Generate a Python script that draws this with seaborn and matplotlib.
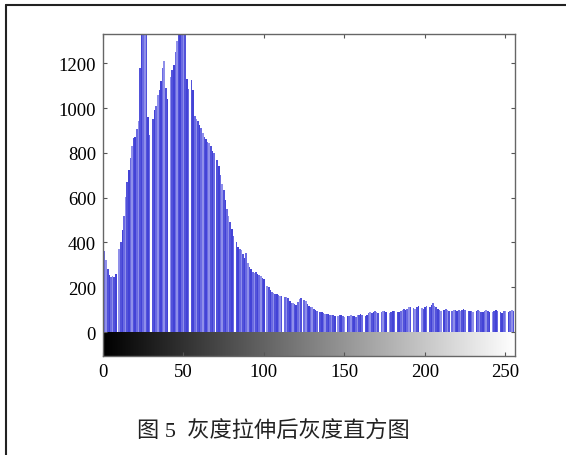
import numpy as np
import pandas as pd
import matplotlib
matplotlib.use('Agg')
import matplotlib.pyplot as plt
from matplotlib.lines import Line2D
import seaborn as sns

# histogram counts after gray-level stretching, levels 0..255
counts = [
    395, 360, 320, 280, 255, 248, 252, 245, 258, 0,
    370, 400, 455, 520, 605, 670, 725, 775, 830, 865,
    870, 905, 940, 1180, 1450, 1520, 1490, 1400, 960, 880,
    0, 950, 990, 1010, 1060, 1080, 1120, 1180, 1210, 1090,
    1040, 0, 1140, 1170, 1190, 1250, 1300, 1480, 1520, 1500,
    1450, 1380, 1130, 1085, 0, 1125, 1080, 965, 950, 940,
    925, 910, 890, 870, 860, 850, 845, 830, 810, 800,
    0, 770, 740, 700, 660, 635, 590, 550, 520, 490,
    460, 430, 0, 400, 380, 370, 365, 350, 330, 355,
    310, 290, 280, 270, 265, 268, 260, 255, 250, 240,
    235, 0, 205, 200, 190, 180, 175, 170, 168, 165,
    162, 160, 0, 158, 155, 150, 140, 130, 128, 125,
    122, 135, 147, 150, 0, 145, 140, 125, 118, 112,
    110, 105, 100, 95, 0, 90, 88, 85, 82, 80,
    79, 78, 75, 76, 72, 0, 70, 74, 78, 72,
    68, 0, 70, 72, 75, 70, 71, 68, 74, 78,
    80, 76, 0, 72, 78, 85, 88, 86, 90, 92,
    88, 85, 0, 90, 94, 92, 88, 0, 86, 90,
    94, 92, 0, 88, 90, 95, 100, 102, 98, 105,
    110, 112, 0, 108, 104, 110, 115, 0, 108, 102,
    112, 118, 0, 110, 120, 128, 118, 112, 104, 100,
    96, 0, 98, 102, 100, 94, 0, 96, 100, 98,
    94, 97, 92, 98, 104, 100, 0, 94, 96, 92,
    90, 0, 96, 100, 94, 88, 90, 92, 98, 96,
    90, 0, 88, 92, 98, 94, 0, 90, 86, 92,
    96, 0, 88, 94, 100, 92,
]
levels = list(range(256))
x_ticks = [0, 50, 100, 150, 200, 250]
y_ticks = [0, 200, 400, 600, 800, 1000, 1200]
caption = "图 5  灰度拉伸后灰度直方图"

sns.set_theme(style="white")
plt.rcParams['font.family'] = ['Liberation Serif', 'Noto Sans CJK SC']

df = pd.DataFrame({"level": levels, "count": counts})

fig = plt.figure(figsize=(5.66, 4.56), dpi=100)
ax = fig.add_axes([0.182, 0.217, 0.728, 0.706])

sns.barplot(data=df, x="level", y="count", native_scale=True, width=1.0,
            color="#5a5ade", edgecolor="none", linewidth=0, ax=ax)

# uneven stem shading like the original raster
shades = ["#4343d6", "#6a6ae2", "#8f8fea", "#5252da"]
for i, p in enumerate(ax.patches):
    p.set_facecolor(shades[i % len(shades)])

ymin, ymax = -107, 1330
# grayscale strip under the histogram
grad = np.linspace(0, 1, 256).reshape(1, -1)
ax.imshow(grad, extent=(0, 256, ymin, 0), aspect='auto', cmap='gray',
          vmin=0, vmax=1, zorder=0)

ax.set_xlim(0, 256)
ax.set_ylim(ymin, ymax)
ax.set_xticks(x_ticks)
ax.set_yticks(y_ticks)
ax.set_xlabel("")
ax.set_ylabel("")
ax.tick_params(direction='in', length=3, width=0.8, color='#555555',
               top=True, right=True, bottom=True, left=True,
               labelsize=13.5, pad=5, labelcolor='black')
for s in ax.spines.values():
    s.set_visible(True)
    s.set_color('#666666')
    s.set_linewidth(1.0)

fig.text(0.483, 0.052, caption, ha='center', va='center', fontsize=16,
         color='#222222')

# page frame (left and top rules)
fx, fy = 5.5 / 566, 1 - 6 / 456
fig.add_artist(Line2D([fx, fx], [0, fy], transform=fig.transFigure,
                      color='#222222', linewidth=1.5))
fig.add_artist(Line2D([fx, 1], [fy, fy], transform=fig.transFigure,
                      color='#222222', linewidth=1.5))

fig.savefig("out.png", dpi=100)
